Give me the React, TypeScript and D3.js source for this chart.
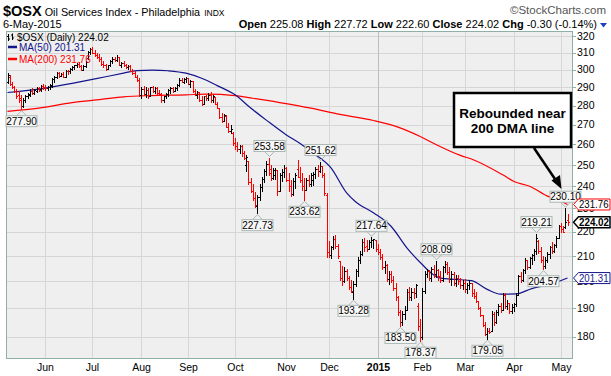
import React from 'react';
import * as d3 from 'd3';

// ---------- data ----------
const startDate = '2014-05-07';
const endDate = '2015-05-06';
const holidays = ['2014-05-26', '2014-07-04', '2014-09-01', '2014-11-27', '2014-12-25', '2015-01-01', '2015-01-19', '2015-02-16', '2015-04-03'];

const opens = [293,296,292,290,288,286,284,280,283,285,286,288,287,288,289.5,289,291,290,289.5,290.5,
291,294.5,296,298,296.5,297.5,296,299.5,299,300.5,301.5,302.5,303.5,302,300,302,307,310.5,312,310,
308.5,307.5,306,303.5,303,300.5,302.5,305,306.5,305.5,307.5,303,304,302.5,301.5,302,299.5,298,296,294,
286,289,286.5,288.5,285.5,290,288,289.5,287,286.5,283,285,286.5,288.5,289.5,288,289.5,291.5,294,293,
294.5,295.5,292,293.5,288,286,287.5,283,281,285,284,286,283,284.5,281,279,274,272,274.5,269,
267,266,260.5,259,257.5,259,256,250,252,242,238,234.5,231,235,239.5,243.5,247,250.5,248,244,
245,247.5,238,245,246.5,248.5,243,240,236.5,242.5,248,244.5,243,240,238.5,243,241,243,245.5,248,
247,249.5,245,236,211.5,210.5,213.5,217,214,208,201.5,200,204,201.5,198,196,199,204,208.5,211,
215.5,214,213,215.5,216.5,216.5,213,211.5,209.5,205.5,206.5,201,203,200.5,197.5,194,188.5,185,188,189.5,
196,194,196,195.5,191,183.5,180,196.5,203,204,201.5,205,203,204.5,202,200.5,205.5,207,203.5,201,
203,199.5,201.5,200,198.5,199.5,197,198.5,199.5,195.5,194.5,192.5,190,187.5,184,181,182,182,188,185,
188.5,191,189.5,195,191,192,189,190.5,191.5,195,202,200.5,204.5,208.5,205.5,209,210.5,212,216,212,
208.5,206,208.5,211,213.5,212,214.5,217.5,222.5,221,222,225.08];

const highs = [298,297,293,291,289,288,286,284,286,287,289,289.5,289,290,290.5,291.5,292,291.5,291,292,
295,296.5,298.5,298.5,298,298.5,300,300,301,302,303,304,304.5,303,302.5,305,311,313,313.5,311.5,
310,309,307.5,305,303.5,303,305.5,307.5,307.5,308.5,307.5,304.5,305,303.5,303,302.5,300.5,299,297,295,
290,291,290,289.5,290.5,291,290.5,290,288.5,287,285.5,287,289,290,290.5,290,292,295,295.5,295,
296,295.5,294,293.5,289,288,287.5,285,285.5,286,287,287.5,286,284.5,282,279,276,275.5,275,271,
270,266.5,263,261,259.5,259.5,257,255,252,244,241,237.5,236,241,244.5,248,252,253.58,250,248.5,
248.5,247.5,246,248,250,249,246,243,244,246,252.5,249,246,244,244,245,246,246.5,249,250,
251.62,249.5,246,237,216,214,218,218.5,215,208,206,205.5,205,202,200.5,200,205,209.5,212,217,
217.5,216.5,216.5,217.64,217,216.5,215,213,211,208,207,204,204,202,199.5,194.5,189.5,189,191,197,
198,197.5,197.5,199,192,186,197.5,204,205,204.5,205.5,206.5,208.09,205,204,206,208,207.5,205.5,204,
203.5,202.5,202.5,201.5,200.5,201,199.5,200.5,199.5,197,196,192.5,190.5,187.5,185,183,183,189,188.5,189.5,
191.5,192,195.5,195.5,193,192,191.5,192,195.5,202.5,203.5,205,209,208.5,209.5,211,213,219.21,216.5,213.5,
210,209.5,211.5,214,215.8,215,218,223,223.7,222.5,230.10,227.72];

const lows = [292,291,289.5,287,284,282,277.9,279,282,284,285,286,286,287,287.5,288,289,288.5,288.5,289,
290,292.5,295,295.5,296,295.5,296,297.5,298,299.5,300,301,301.5,299.5,299.5,301.5,306,309,309.5,307.5,
306.5,305,302.5,301.5,299.5,300,302,303.5,304.5,305,302.5,301.5,302,300.5,300,299,297.5,295.5,293.5,285,
284,285.5,284.5,284,285,287,286.5,286,285.5,282,282,284,285,286.5,287,287.5,288.5,290.5,292.5,292,
293,291.5,290,287,285.5,284,282.5,280,280.5,283,283,282,281.5,280.5,278.5,273.5,271,271.5,268.5,266,
265.5,259.5,257.5,256.5,255.5,254,252.5,247,241,237,233.5,230.5,227.73,233.5,237.5,241.5,245,245,242.5,243,
243,236,237.5,242,244,242,237.5,235.5,236,239,244,241.5,238,233.62,238,240,240,240.5,243.5,244.5,
246.5,244,236,209.5,209.5,209,212.5,213,209,200.5,198.5,199.5,200.5,197,196,193.28,198,202,207,210,
212,212,212.5,213.5,213,212,210.5,208.5,204.5,203,200,199,199.5,196.5,193,187.5,183.5,184,186,189.5,
193,193,193.5,194,182,178.37,179,195.5,201.5,200.5,200,201.5,201.5,200.5,199.5,200,203.5,202.5,199.5,198.5,
198.5,198,199,197.5,197,196,195.5,197,194.5,193.5,192,189.5,187,183.5,180.5,179.05,181,182,184,184.5,
187.5,188.5,189.5,190,189.5,188,188,189,190.5,195,199.5,200,203,204.5,205,206.5,208,210.5,211,207.5,
204.57,205,207.5,209,211,211.5,213.5,217,219.5,219.5,221.5,222.60];

const closes = [297,292,290,288,285,283,280,283,285.5,286.5,288,287,288.5,289.5,288.5,291,290,289.5,290.5,291.5,
294.5,296,298,296.5,297.5,296,299.5,299,300.5,301.5,302.5,303.5,302,300,302,304.5,310.5,312,310,308.5,
307.5,306,303.5,303,300.5,302.5,305,306.5,305.5,307.5,303,304,302.5,301.5,302,299.5,298,296,294,286,
289,286.5,288.5,285.5,290,288,289.5,287,286.5,283,285,286.5,288.5,289.5,288,289.5,291.5,294,293,294.5,
295.5,292,293.5,288,286,287.5,283,281,285,284,286,283,285.5,281,279,274,272,275,269,267,
268,260.5,259,257.5,259,256,253.5,253.8,242,238,234.5,231.5,235,239.5,243.5,247,250.5,246,244,247.5,
247.8,238,245,246.5,248.5,243,240,236.5,242.5,245,244.5,243,240,238.5,243,241,245,245.5,248,247,
249.5,245,237,211.5,210.5,213.5,217,214,210,201.5,200,204,201.5,198,196.5,199,204,208.5,211,215.5,
213.5,213,215.5,216.5,216.8,213,211.5,209.5,205.5,206.5,201,203,200.5,197.5,194,188.5,185,188,189.5,196,
194,196,195.5,198.5,183.5,180,196.5,203,204,201.5,205,203,204.5,202,200.5,205.5,207,203.5,201,203,
199.5,201.5,200,198.5,199.5,197,198.5,199.5,195.5,194.5,192.5,190,187.5,184,181,182,181.5,188,185,188.5,
191,189.5,195,191,192,189,190.5,191.5,195,202,200.5,204.5,208.5,205.5,209,210.5,212,217.5,212,208.5,
206,208.5,211,213.5,212,214.5,217.5,222.5,221,220,224.32,224.02];

// moving averages (trading-day index, value)
const ma50Days = [0, 14, 29, 44, 52, 58, 65, 72, 80, 87, 94, 102, 109, 116, 125, 131, 137, 145, 152, 156, 164, 172, 179, 186, 190, 194, 201, 208, 215, 221, 228, 235, 242, 247, 251];
const ma50Vals = [287.2, 289, 292.3, 296, 298, 299.5, 299.8, 299.4, 298, 295.1, 291, 285.9, 278.8, 272.4, 264.8, 260.6, 255.8, 248.6, 237, 233, 228.1, 222.2, 213.3, 206.5, 203.2, 201.3, 200.8, 200.3, 197, 195.2, 195.3, 197.3, 198.7, 200, 201.31];
const ma200Days = [0, 14, 29, 42, 52, 64, 80, 89, 102, 109, 122, 136, 149, 164, 175, 185, 192, 203, 209, 222, 227, 234, 242, 248, 251];
const ma200Vals = [277, 278.7, 281.7, 283.4, 284.8, 285.5, 285.9, 286.3, 285.5, 284.2, 281.7, 278.7, 275.4, 272.2, 268.8, 264, 260, 254.6, 252.4, 245.3, 242.2, 240, 235.5, 233.3, 231.76];

// labelled highs / lows
const noteDays = [6, 117, 112, 140, 133, 163, 155, 176, 185, 192, 215, 237, 240, 250];
const noteVals = [277.90, 253.58, 227.73, 251.62, 233.62, 217.64, 193.28, 183.50, 178.37, 208.09, 179.05, 219.21, 204.57, 230.10];
const noteKind = ['low', 'high', 'low', 'high', 'low', 'high', 'low', 'low', 'low', 'high', 'low', 'high', 'low', 'high'];

const yTicks = [180, 190, 200, 210, 220, 230, 240, 250, 260, 270, 280, 290, 300, 310, 320];
const monthNames = ['Jan', 'Feb', 'Mar', 'Apr', 'May', 'Jun', 'Jul', 'Aug', 'Sep', 'Oct', 'Nov', 'Dec'];

const lastClose = 224.02;
const ma50Last = 201.31;
const ma200Last = 231.76;

// ---------- layout ----------
const W = 611, H = 376;
const plot = { left: 6, right: 573, top: 31, bottom: 359 };
const FONT = '"Liberation Sans", Arial, Helvetica, sans-serif';

function tradingDays(): Date[] {
  const out: Date[] = [];
  const fmt = d3.utcFormat('%Y-%m-%d');
  const end = new Date(endDate + 'T00:00:00Z');
  for (let d = new Date(startDate + 'T00:00:00Z'); d <= end; d = d3.utcDay.offset(d, 1)) {
    const wd = d.getUTCDay();
    if (wd === 0 || wd === 6) continue;
    if (holidays.includes(fmt(d))) continue;
    out.push(d);
  }
  return out;
}

export default function App() {
  const days = tradingDays();
  const n = closes.length;
  const x = d3.scaleLinear().domain([0, n - 1]).range([7.5, 567.5]);
  const y = d3.scaleLog().domain([180, 320]).range([336.5, 36]);

  const months: { i: number; label: string; year: boolean }[] = [];
  for (let i = 1; i < days.length; i++) {
    if (days[i].getUTCMonth() !== days[i - 1].getUTCMonth()) {
      const m = days[i].getUTCMonth();
      months.push({ i, label: m === 0 ? String(days[i].getUTCFullYear()) : monthNames[m], year: m === 0 });
    }
  }

  const line = d3.line<[number, number]>().x(d => x(d[0])).y(d => y(d[1])).curve(d3.curveMonotoneX);
  const ma50Path = line(ma50Days.map((d, k) => [d, ma50Vals[k]] as [number, number])) || '';
  const ma200Path = line(ma200Days.map((d, k) => [d, ma200Vals[k]] as [number, number])) || '';

  const px = (i: number) => Math.round(x(i)) + 0.5;

  return (
    <svg width={W} height={H} style={{ display: 'block', position: 'absolute', left: 0, top: 0, background: '#fff' }} fontFamily={FONT}>
      {/* header */}
      <text x={3} y={16}>
        <tspan fontWeight="bold" fontSize={14.5}>$OSX</tspan>
        <tspan fontSize={10.8} dx={3}>Oil Services Index - Philadelphia</tspan>
        <tspan fontSize={8.5} dx={4}>INDX</tspan>
      </text>
      <text x={606} y={14} textAnchor="end" fontSize={11.5} fill="#555">©StockCharts.com</text>
      <text x={3} y={28} fontSize={11}>6-May-2015</text>
      <text x={597} y={28} textAnchor="end" fontSize={11}>
        <tspan fontWeight="bold">Open</tspan> 225.08 <tspan fontWeight="bold">High</tspan> 227.72 <tspan fontWeight="bold">Low</tspan> 222.60 <tspan fontWeight="bold">Close</tspan> 224.02 <tspan fontWeight="bold">Chg</tspan> -0.30 (-0.14%)
      </text>
      <path d="M600,23 L607,23 L603.5,27.5 Z" fill="#2040c0" />

      {/* plot background */}
      <rect x={plot.left} y={plot.top} width={plot.right - plot.left} height={plot.bottom - plot.top} fill="#efefef" />
      {yTicks.map(t => (
        <line key={'gy' + t} x1={plot.left} x2={plot.right} y1={Math.round(y(t)) + 0.5} y2={Math.round(y(t)) + 0.5} stroke="#d6d6d6" strokeWidth={1} />
      ))}
      {months.map(m => (
        <line key={'gx' + m.i} x1={px(m.i)} x2={px(m.i)} y1={plot.top} y2={plot.bottom} stroke={m.year ? '#bdbdbd' : '#d6d6d6'} strokeWidth={1} />
      ))}

      {/* moving averages */}
      <path d={ma200Path} fill="none" stroke="#ff0000" strokeWidth={1.2} />
      <path d={ma50Path} fill="none" stroke="#14148c" strokeWidth={1.2} />

      {/* OHLC bars */}
      <g shapeRendering="crispEdges">
        {closes.map((c, i) => {
          const col = i > 0 && c < closes[i - 1] ? '#ff0000' : '#000000';
          const xx = px(i);
          return (
            <g key={'b' + i} stroke={col} strokeWidth={1}>
              <line x1={xx} x2={xx} y1={y(highs[i])} y2={y(lows[i]) + 0.5} />
              <line x1={xx - 1.5} x2={xx} y1={Math.round(y(opens[i])) + 0.5} y2={Math.round(y(opens[i])) + 0.5} />
              <line x1={xx} x2={xx + 1.5} y1={Math.round(y(c)) + 0.5} y2={Math.round(y(c)) + 0.5} />
            </g>
          );
        })}
      </g>

      {/* plot frame */}
      <rect x={plot.left + 0.5} y={plot.top + 0.5} width={plot.right - plot.left - 1} height={plot.bottom - plot.top - 1} fill="none" stroke="#8fb0a8" strokeWidth={1} />

      {/* legend */}
      <g fontSize={10}>
        <path d="M8.5,34 V41 M7,36.5 H8.5 M8.5,39 H10 M12.5,33.5 V40 M11,35 H12.5 M12.5,38 H14" stroke="#000" strokeWidth={1} fill="none" />
        <text x={17} y={40.5}>$OSX (Daily) 224.02</text>
        <line x1={8} x2={17} y1={47} y2={47} stroke="#14148c" strokeWidth={2.5} />
        <text x={19} y={50.5} fill="#14148c">MA(50) 201.31</text>
        <line x1={8} x2={17} y1={59} y2={59} stroke="#ff0000" strokeWidth={2.5} />
        <text x={19} y={62.5} fill="#ff0000">MA(200) 231.76</text>
      </g>

      {/* y axis */}
      {yTicks.map(t => (
        <g key={'yt' + t}>
          <line x1={plot.right} x2={plot.right + 3} y1={Math.round(y(t)) + 0.5} y2={Math.round(y(t)) + 0.5} stroke="#8fb0a8" />
          <text x={577} y={y(t) + 3.6} fontSize={10.5}>{t}</text>
        </g>
      ))}

      {/* x axis */}
      {months.map(m => (
        <text key={'ml' + m.i} x={px(m.i)} y={371} fontSize={10.5} textAnchor="middle" fontWeight={m.year ? 'bold' : 'normal'}>{m.label}</text>
      ))}

      {/* high / low labels */}
      {noteDays.map((d, k) => {
        const cx = px(d);
        const vy = y(noteVals[k]);
        const txt = noteVals[k].toFixed(2);
        const bw = 31, bh = 11;
        const isHigh = noteKind[k] === 'high';
        const by = isHigh ? vy - 6 - bh : vy + 6;
        const tipY = isHigh ? vy - 1 : vy + 1;
        const baseY = isHigh ? by + bh : by;
        return (
          <g key={'n' + k}>
            <path d={`M${cx - 5},${baseY} L${cx},${tipY} L${cx + 5},${baseY}`} fill="none" stroke="#aab8b4" strokeWidth={1} />
            <rect x={cx - bw / 2} y={by} width={bw} height={bh} fill="#f7f7f7" stroke="#aab8b4" strokeWidth={1} />
            <text x={cx} y={by + 9} fontSize={10} textAnchor="middle">{txt}</text>
          </g>
        );
      })}

      {/* right-side value tags */}
      {[
        { v: ma200Last, stroke: '#ff0000', color: '#000', bold: false },
        { v: lastClose, stroke: '#000', color: '#000', bold: true },
        { v: ma50Last, stroke: '#14148c', color: '#14148c', bold: false },
      ].map((t, k) => {
        const cy = y(t.v);
        const h = 11;
        const x0 = 573.5, x1 = 610;
        return (
          <g key={'tag' + k}>
            <path d={`M${x0},${cy} L${x0 + 5},${cy - h / 2} L${x1},${cy - h / 2} L${x1},${cy + h / 2} L${x0 + 5},${cy + h / 2} Z`} fill="#fff" stroke={t.stroke} strokeWidth={t.bold ? 1.5 : 1} />
            <text x={579} y={cy + 3.8} fontSize={t.bold ? 10.2 : 10} fontWeight={t.bold ? 'bold' : 'normal'} fill={t.color} textLength={t.bold ? 30 : 29.5} lengthAdjust="spacingAndGlyphs">{t.v.toFixed(2)}</text>
          </g>
        );
      })}

      {/* annotation */}
      <rect x={454} y={93} width={117} height={54} fill="#fff" stroke="#000" strokeWidth={2.5} />
      <text x={512.5} y={117.5} fontSize={13.5} fontWeight="bold" textAnchor="middle">Rebounded near</text>
      <text x={512.5} y={133} fontSize={13.5} fontWeight="bold" textAnchor="middle">200 DMA line</text>
      <line x1={534} y1={148} x2={557} y2={182} stroke="#000" strokeWidth={2.5} />
      <path d="M561.5,189 L551.5,180.5 L560,175 Z" fill="#000" />
    </svg>
  );
}
